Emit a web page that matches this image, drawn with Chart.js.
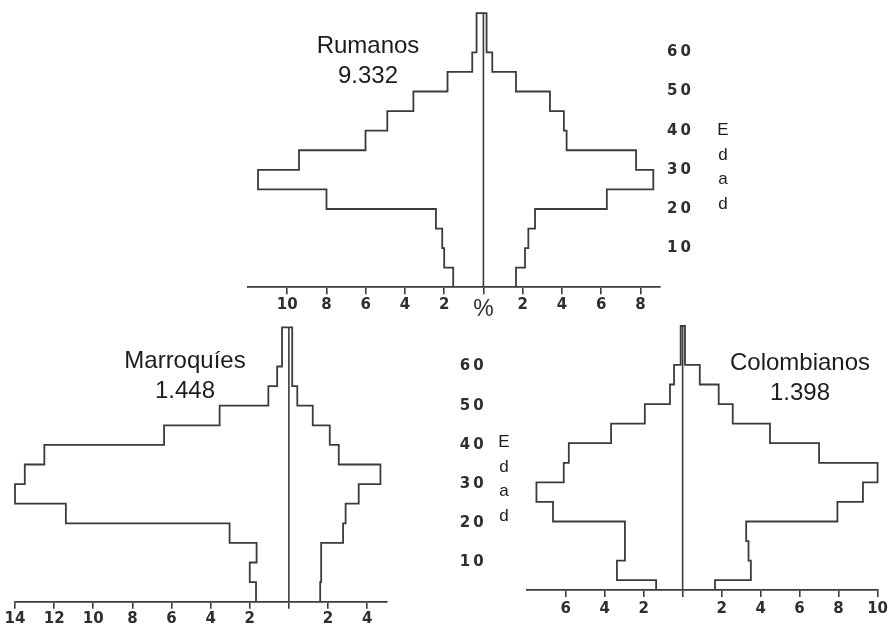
<!DOCTYPE html>
<html>
<head>
<meta charset="utf-8">
<script src="https://cdn.jsdelivr.net/npm/chart.js@4.4.0/dist/chart.umd.min.js"></script>
<style>
  html, body { margin: 0; padding: 0; background: #fff; }
  body { width: 891px; height: 626px; position: relative; overflow: hidden;
         font-family: "Liberation Sans", Arial, sans-serif; }
  canvas { position: absolute; }
  .title { position: absolute; width: 220px; text-align: center; font-size: 24px;
           line-height: 29.5px; color: #1c1c1c; }
  .edad { position: absolute; width: 20px; text-align: center; font-size: 17px;
          line-height: 24.6px; color: #1c1c1c; }
</style>
</head>
<body>
<canvas id="rumanos"></canvas>
<canvas id="marroquies"></canvas>
<canvas id="colombianos"></canvas>

<div class="title" style="left:258px; top:30px;">Rumanos<br>9.332</div>
<div class="title" style="left:75px; top:345px;">Marroquíes<br>1.448</div>
<div class="title" style="left:690px; top:347px;">Colombianos<br>1.398</div>

<div class="edad" style="left:713px; top:118px;">E<br>d<br>a<br>d</div>
<div class="edad" style="left:494px; top:430px;">E<br>d<br>a<br>d</div>

<script>
// age band edges in years (last band is 60-70)
const ageEdges = [0, 5, 10, 15, 20, 25, 30, 35, 40, 45, 50, 55, 60, 70];
const ageTicks = [10, 20, 30, 40, 50, 60];

// % of population per age band, left and right half of each pyramid
const rumanosLeft  = [1.54, 2.0, 2.1, 2.42, 8.0, 11.49, 9.4, 6.01, 4.9, 3.57, 1.83, 0.57, 0.35];
const rumanosRight = [1.66, 2.12, 2.29, 2.63, 6.29, 8.66, 7.78, 4.24, 4.1, 3.39, 1.66, 0.45, 0.16];

const marroquiesLeft  = [1.68, 2.0, 1.65, 3.03, 11.4, 14.0, 13.5, 12.5, 6.38, 3.54, 1.05, 0.6, 0.35];
const marroquiesRight = [1.6, 1.65, 1.65, 2.77, 2.9, 3.57, 4.68, 2.55, 2.09, 1.22, 0.43, 0.17, 0.17];

const colombianosLeft  = [1.36, 3.37, 2.96, 2.96, 6.65, 7.5, 6.1, 5.84, 3.67, 1.94, 0.65, 0.44, 0.1];
const colombianosRight = [1.66, 3.5, 3.38, 3.26, 7.94, 9.25, 10.0, 7.0, 4.48, 2.57, 1.85, 0.88, 0.12];

// x tick values (% axis); left side shown as positive numbers
const rumanosTicks     = [-10, -8, -6, -4, -2, 0, 2, 4, 6, 8];
const marroquiesTicks  = [-14, -12, -10, -8, -6, -4, -2, 0, 2, 4];
const colombianosTicks = [-6, -4, -2, 0, 2, 4, 6, 8, 10];

const lineColor = '#3b3b3b';
const labelColor = '#2e2e2e';

// step outline of a pyramid: up the left side, across the top, down the right
function outline(left, right, base) {
    const pts = [];
    for (let i = 0; i < left.length; i++) {
        pts.push({x: -left[i], y: Math.max(ageEdges[i], base)});
        pts.push({x: -left[i], y: ageEdges[i + 1]});
    }
    for (let i = right.length - 1; i >= 0; i--) {
        pts.push({x: right[i], y: ageEdges[i + 1]});
        pts.push({x: right[i], y: Math.max(ageEdges[i], base)});
    }
    return pts;
}

// widen the spacing of the age labels only
const spacedAges = {
    id: 'spacedAges',
    afterLayout(chart) {
        const s = chart.scales.y;
        if (!s || s._spaced) return;
        const orig = s.drawLabels;
        s.drawLabels = function (area) {
            this.ctx.save();
            this.ctx.letterSpacing = '3px';
            orig.call(this, area);
            this.ctx.restore();
        };
        s._spaced = true;
    }
};

function pyramid(id, cfg) {
    const canvas = document.getElementById(id);
    const [bx, by, bw, bh] = cfg.box;
    const [al, at, ar, ab] = cfg.area;
    canvas.style.left = bx + 'px';
    canvas.style.top = by + 'px';
    canvas.width = bw;
    canvas.height = bh;
    const ageWidth = cfg.showAges ? cfg.ageWidth : 0;

    new Chart(canvas, {
        type: 'scatter',
        data: {
            datasets: [{
                data: outline(cfg.left, cfg.right, cfg.yMin),
                showLine: true,
                borderColor: lineColor,
                borderWidth: 1.8,
                pointRadius: 0,
                tension: 0,
                clip: false
            }, {
                data: [{x: 0, y: cfg.yMin}, {x: 0, y: 70}],
                showLine: true,
                borderColor: lineColor,
                borderWidth: 1.6,
                pointRadius: 0,
                clip: false
            }]
        },
        plugins: [spacedAges],
        options: {
            responsive: false,
            animation: false,
            events: [],
            layout: {
                padding: {
                    left: al - bx,
                    top: at - by,
                    right: bx + bw - ar - ageWidth,
                    bottom: by + bh - ab - cfg.axisHeight
                }
            },
            plugins: { legend: { display: false }, tooltip: { enabled: false } },
            scales: {
                x: {
                    type: 'linear',
                    min: cfg.xMin,
                    max: cfg.xMax,
                    afterBuildTicks: s => { s.ticks = cfg.ticks.map(v => ({value: v})); },
                    afterFit: s => { s.height = cfg.axisHeight; },
                    grid: { drawOnChartArea: false, drawTicks: true, tickLength: 7,
                            color: lineColor, lineWidth: 1.6 },
                    border: { display: true, color: lineColor, width: 1.8 },
                    ticks: {
                        padding: cfg.tickPad,
                        color: labelColor,
                        font: c => (c.tick && c.tick.value === 0)
                            ? { family: '"Liberation Sans", Arial', size: 23, weight: 'normal' }
                            : { family: '"DejaVu Sans"', size: 15, weight: 'bold' },
                        callback: v => v === 0 ? cfg.zeroLabel : String(Math.abs(v))
                    }
                },
                y: {
                    type: 'linear',
                    position: 'right',
                    display: cfg.showAges,
                    min: cfg.yMin,
                    max: 70,
                    afterBuildTicks: s => { s.ticks = ageTicks.map(v => ({value: v})); },
                    afterFit: s => {
                        s.width = ageWidth;
                        s.paddingTop = 0;
                        s.paddingBottom = 0;
                    },
                    grid: { display: false, drawTicks: false },
                    border: { display: false },
                    ticks: {
                        padding: cfg.agePad,
                        crossAlign: 'near',
                        color: labelColor,
                        font: { family: '"DejaVu Sans"', size: 15, weight: 'bold' }
                    }
                }
            }
        }
    });
}

pyramid('rumanos', {
    box: [230, 0, 520, 320],
    area: [248, 13.2, 660, 287.3],
    left: rumanosLeft, right: rumanosRight, ticks: rumanosTicks,
    xMin: -12, xMax: 9, yMin: 0,
    axisHeight: 30, tickPad: 2, zeroLabel: '%',
    showAges: true, ageWidth: 60, agePad: 7
});

pyramid('marroquies', {
    box: [0, 310, 520, 316],
    area: [15, 327.3, 386.7, 601.7],
    left: marroquiesLeft, right: marroquiesRight, ticks: marroquiesTicks,
    xMin: -14, xMax: 5, yMin: 0,
    axisHeight: 24.3, tickPad: 1, zeroLabel: '',
    showAges: true, ageWidth: 120, agePad: 73
});

pyramid('colombianos', {
    box: [505, 310, 386, 316],
    area: [526.7, 325.8, 878.3, 590],
    left: colombianosLeft, right: colombianosRight, ticks: colombianosTicks,
    xMin: -8, xMax: 10, yMin: 2.5,
    axisHeight: 36, tickPad: 3, zeroLabel: '',
    showAges: false, ageWidth: 0, agePad: 0
});
</script>
</body>
</html>
